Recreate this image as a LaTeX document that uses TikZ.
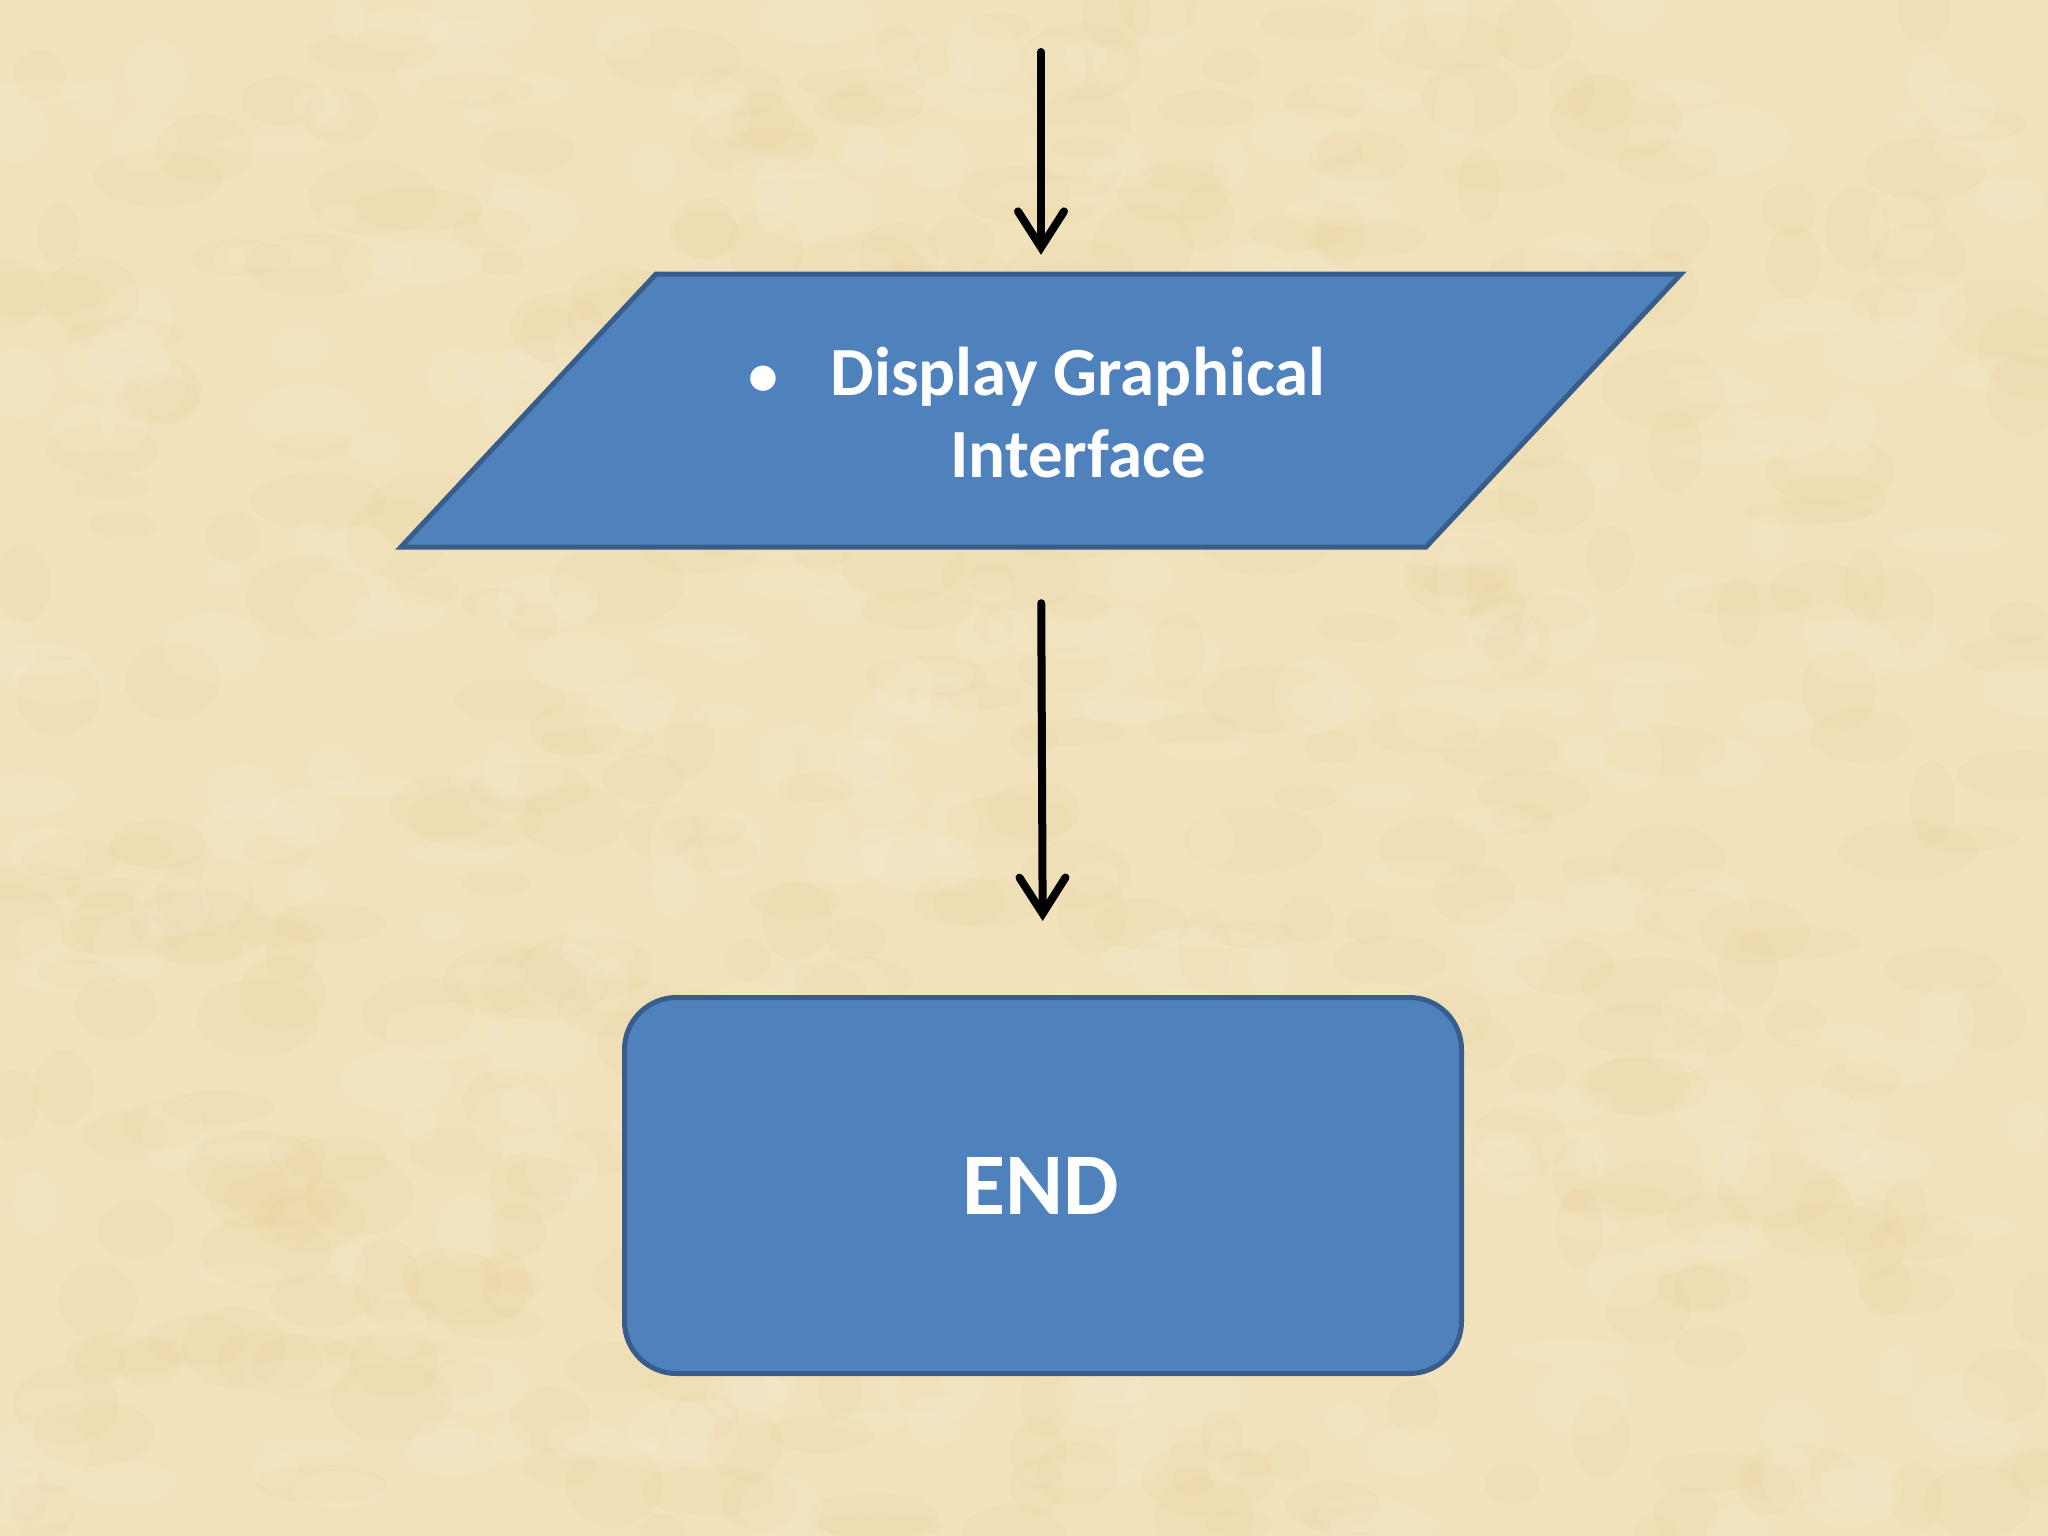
\documentclass[tikz,border=0pt]{standalone}
\usepackage{fontspec}
\setmainfont{Carlito}
\usetikzlibrary{arrows.meta}
\definecolor{bg}{RGB}{241,226,188}
\definecolor{bgdark}{RGB}{230,203,145}
\definecolor{bglight}{RGB}{249,240,214}
\definecolor{boxfill}{RGB}{79,129,189}
\definecolor{boxline}{RGB}{56,93,138}
\tikzset{
  flowbox/.style={fill=boxfill, draw=boxline, line width=5pt},
  flowarrow/.style={line width=8pt, black, line cap=round,
    -{Straight Barb[length=36pt,width=46pt,line cap=round]}},
  boxtext/.style={text=white, inner sep=0pt}
}
\begin{document}
\begin{tikzpicture}[x=1pt,y=-1pt]
\fill[bg] (0,0) rectangle (2048,1536);
\useasboundingbox (0,0) rectangle (2048,1536);
% subtle parchment texture
\pgfmathsetseed{7}
\begin{scope}
\clip (0,0) rectangle (2048,1536);
\foreach \i in {1,...,420}{
  \pgfmathsetmacro{\px}{rnd*2048}
  \pgfmathsetmacro{\py}{rnd*1536}
  \pgfmathsetmacro{\rx}{20+rnd*50}
  \pgfmathsetmacro{\ry}{12+rnd*30}
  \fill[bgdark, opacity=0.10] (\px,\py) ellipse [x radius=\rx, y radius=\ry];
}
\foreach \i in {1,...,360}{
  \pgfmathsetmacro{\px}{rnd*2048}
  \pgfmathsetmacro{\py}{rnd*1536}
  \pgfmathsetmacro{\rx}{15+rnd*45}
  \pgfmathsetmacro{\ry}{10+rnd*28}
  \fill[bglight, opacity=0.14] (\px,\py) ellipse [x radius=\rx, y radius=\ry];
}
\end{scope}
% parallelogram
\draw[flowbox, line join=miter] (656,274) -- (1681,274) -- (1426,547) -- (401,547) -- cycle;
\node[inner sep=0pt, minimum width=1025pt, minimum height=273pt] (io) at (1041,410.5) {};
\node[boxtext, align=center, anchor=base, font=\bfseries\fontsize{69}{82}\selectfont] (iotext) at (1078,477)
  {\llap{{\fontsize{60}{60}\selectfont\textbullet}\hspace{52pt}}Display Graphical\\Interface};
% end box
\node[flowbox, rounded corners=52pt, minimum width=837pt, minimum height=376pt, anchor=north west] (endbox) at (622,995) {};
\node[boxtext, font=\bfseries\fontsize{88}{90}\selectfont] (endtext) at (1041,1186) {END};
% arrows
\coordinate (start) at (1041,52);
\draw[flowarrow, shorten >=19pt] (start) -- (io.north);
\draw[flowarrow, shorten <=56pt, shorten >=74pt] (io.south) -- (endbox.north);
\end{tikzpicture}
\end{document}
